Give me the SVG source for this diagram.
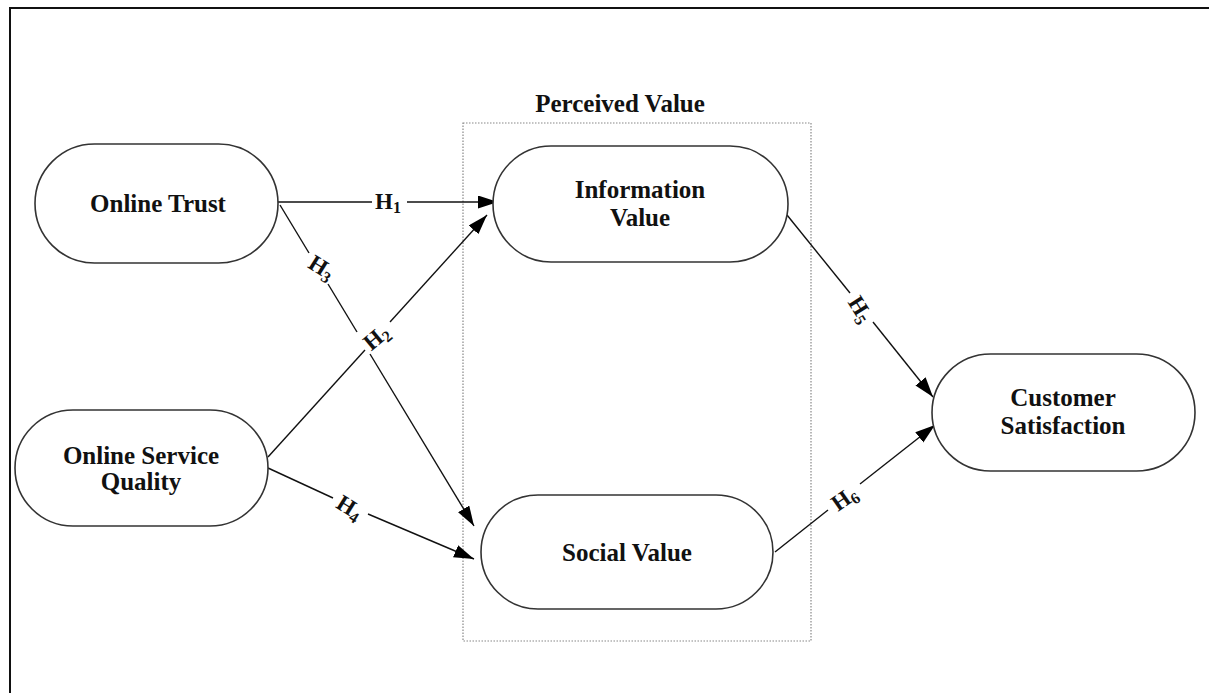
<svg xmlns="http://www.w3.org/2000/svg" width="1209" height="693" viewBox="0 0 1209 693">
<style>
.node{fill:#fff;stroke:#333;stroke-width:1.6}
.nt{font-family:"Liberation Serif","Times New Roman",serif;font-weight:bold;font-size:25px;fill:#111;text-anchor:middle}
.lbl{font-family:"Liberation Serif","Times New Roman",serif;font-weight:bold;font-size:23px;fill:#111;text-anchor:middle}
.sub{font-size:16px}
.edge{stroke:#111;stroke-width:1.4;fill:none}
</style>
<defs>
<marker id="arr" markerUnits="userSpaceOnUse" markerWidth="20" markerHeight="14" refX="20" refY="6.5" orient="auto">
<path d="M0,0 L20,6.5 L0,13 z" fill="#000"/>
</marker>
</defs>
<rect width="1209" height="693" fill="#fff"/>
<path d="M10,693 V8 H1209" fill="none" stroke="#111" stroke-width="2"/>

<g id="group-perceived">
<rect x="463" y="123" width="348" height="518" fill="none" stroke="#888" stroke-width="1.2" stroke-dasharray="1.5,1.5"/>
<text class="nt" x="620" y="112">Perceived Value</text>
</g>

<g id="connectors">
<line class="edge" x1="278" y1="202" x2="372" y2="202"/>
<line class="edge" x1="407" y1="202" x2="498" y2="202" marker-end="url(#arr)"/>
<line class="edge" x1="280" y1="205" x2="309" y2="253"/>
<line class="edge" x1="328" y1="284" x2="357" y2="332"/>
<line class="edge" x1="370" y1="354" x2="474" y2="526" marker-end="url(#arr)"/>
<line class="edge" x1="268" y1="457" x2="365" y2="350"/>
<line class="edge" x1="390" y1="322" x2="487" y2="215" marker-end="url(#arr)"/>
<line class="edge" x1="268" y1="468" x2="333" y2="498"/>
<line class="edge" x1="368" y1="514" x2="474" y2="559" marker-end="url(#arr)"/>
<line class="edge" x1="787" y1="215" x2="850" y2="293"/>
<line class="edge" x1="873" y1="322" x2="933" y2="397" marker-end="url(#arr)"/>
<line class="edge" x1="775" y1="552" x2="828" y2="510"/>
<line class="edge" x1="860" y1="484" x2="935" y2="425" marker-end="url(#arr)"/>
<g transform="translate(388,201)"><text class="lbl" x="0" y="8">H<tspan class="sub" dy="4">1</tspan></text></g>
<g transform="translate(322,267) rotate(32)"><text class="lbl" x="0" y="8">H<tspan class="sub" dy="4">3</tspan></text></g>
<g transform="translate(376,337) rotate(-40)"><text class="lbl" x="0" y="8">H<tspan class="sub" dy="4">2</tspan></text></g>
<g transform="translate(350,507) rotate(32)"><text class="lbl" x="0" y="8">H<tspan class="sub" dy="4">4</tspan></text></g>
<g transform="translate(861,309) rotate(58)"><text class="lbl" x="0" y="8">H<tspan class="sub" dy="4">5</tspan></text></g>
<g transform="translate(844,498) rotate(-35)"><text class="lbl" x="0" y="8">H<tspan class="sub" dy="4">6</tspan></text></g>
</g>

<g id="online-trust">
<rect class="node" x="35" y="144" width="243" height="119" rx="59.5"/>
<text class="nt" x="158" y="212">Online Trust</text>
</g>
<g id="online-service-quality">
<rect class="node" x="15" y="410" width="253" height="116" rx="58"/>
<text class="nt" x="141" y="464">Online Service</text>
<text class="nt" x="141" y="490">Quality</text>
</g>
<g id="information-value">
<rect class="node" x="493" y="146" width="295" height="116" rx="58"/>
<text class="nt" x="640" y="198">Information</text>
<text class="nt" x="640" y="226">Value</text>
</g>
<g id="social-value">
<rect class="node" x="481" y="495" width="292" height="114" rx="57"/>
<text class="nt" x="627" y="561">Social Value</text>
</g>
<g id="customer-satisfaction">
<rect class="node" x="932" y="354" width="263" height="117" rx="58.5"/>
<text class="nt" x="1063" y="406">Customer</text>
<text class="nt" x="1063" y="434">Satisfaction</text>
</g>
</svg>
